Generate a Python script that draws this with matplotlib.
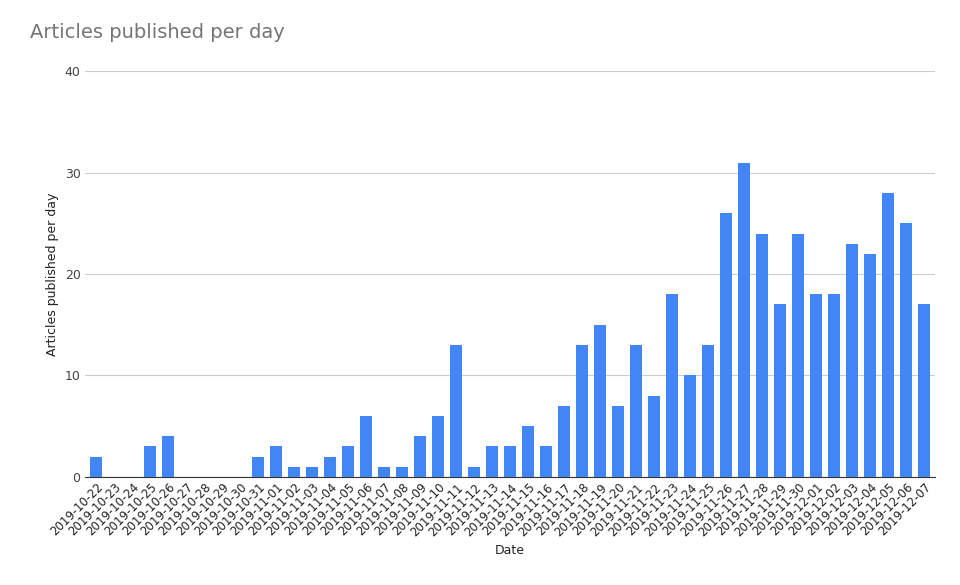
import matplotlib
matplotlib.use("Agg")
import matplotlib.pyplot as plt
import pandas as pd

dates = [d.strftime("%Y-%m-%d") for d in pd.date_range("2019-10-22", "2019-12-07")]
counts = [2,0,0,3,4,0,0,0,0,2,3,1,1,2,3,6,1,1,4,6,13,1,3,3,5,3,7,13,15,7,13,8,18,10,13,26,31,24,17,24,18,18,23,22,28,25,17]

fig = plt.figure(figsize=(9.6, 5.85), dpi=100)
ax = fig.add_axes([0.089, 0.185, 0.885, 0.693])
x = range(len(dates))
ax.bar(x, counts, width=0.65, color="#4285F4", zorder=3)
ax.set_xlim(-0.6, len(dates) - 0.4)
ax.set_ylim(0, 40)
ax.set_yticks([0, 10, 20, 30, 40])
ax.grid(axis="y", color="#cccccc", linewidth=0.8, zorder=0)
ax.set_xticks(list(x))
ax.set_xticklabels(dates, rotation=45, ha="right", fontsize=8.5, color="#222222", rotation_mode="anchor")
ax.tick_params(axis="y", labelsize=9, colors="#444444", length=0)
ax.tick_params(axis="x", length=0, pad=3)
for s in ["top", "right", "left"]:
    ax.spines[s].set_visible(False)
ax.spines["bottom"].set_color("#333333")
ax.set_xlabel("Date", fontsize=9, color="#222222")
ax.set_ylabel("Articles published per day", fontsize=9, color="#222222")
fig.text(0.031, 0.935, "Articles published per day", fontsize=14, color="#757575")
fig.savefig("out.png", dpi=100)
